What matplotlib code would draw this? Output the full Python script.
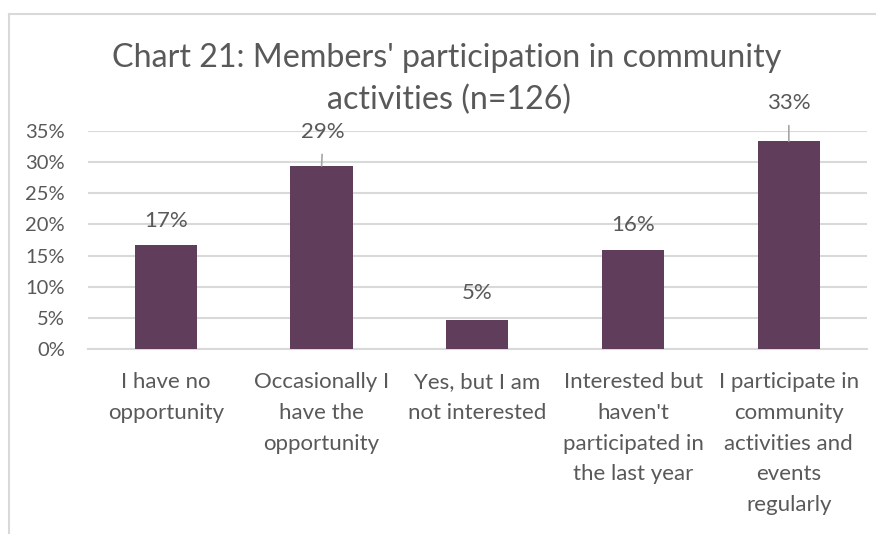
import matplotlib
matplotlib.use("Agg")
import matplotlib.pyplot as plt
from matplotlib.lines import Line2D
from matplotlib.ticker import FixedLocator

plt.rcParams['font.family'] = ['Lato', 'DejaVu Sans']

categories = ["I have no\nopportunity",
              "Occasionally I\nhave the\nopportunity",
              "Yes, but I am\nnot interested",
              "Interested but\nhaven't\nparticipated in\nthe last year",
              "I participate in\ncommunity\nactivities and\nevents\nregularly"]
counts = [21, 37, 6, 20, 42]
n_total = 126
values = [c / n_total for c in counts]
labels = ["17%", "29%", "5%", "16%", "33%"]
yticks = [0, 0.05, 0.10, 0.15, 0.20, 0.25, 0.30, 0.35]
ytick_labels = ["0%", "5%", "10%", "15%", "20%", "25%", "30%", "35%"]
title_lines = ["Chart 21: Members' participation in community", "activities (n=126)"]

BAR = "#613D5C"
TXT = "#595959"
GRID = "#D9D9D9"

W, H = 876, 534
fig = plt.figure(figsize=(W / 100, H / 100), dpi=100)
ax = fig.add_axes([88 / W, 1 - 349.3 / H, (866.7 - 88) / W, (349.3 - 130.7) / H])

x = list(range(len(categories)))
ax.bar(x, values, width=0.4, color=BAR, zorder=3)
ax.set_xlim(-0.5, len(categories) - 0.5)
ax.set_ylim(0, 0.35)
ax.yaxis.set_major_locator(FixedLocator(yticks))
ax.set_yticklabels(ytick_labels, fontsize=14.5, color=TXT)
ax.set_xticks(x)
ax.set_xticklabels([""] * len(categories))
ax.tick_params(axis='both', length=0)
ax.tick_params(axis='y', pad=16.5)
ax.grid(axis='y', color=GRID, linewidth=1.5, zorder=0)
for s in ['top', 'right', 'left']:
    ax.spines[s].set_visible(False)
ax.spines['bottom'].set_color(GRID)
ax.spines['bottom'].set_linewidth(1.5)

# category labels
for xi, cat in zip(x, categories):
    ax.annotate(cat, xy=(xi, 0), xycoords=('data', 'axes fraction'),
                xytext=(0, -23), textcoords='offset pixels',
                ha='center', va='top', fontsize=16, color=TXT,
                linespacing=1.67, annotation_clip=False)

# data labels (pixel offsets from bar top to label center)
offsets = [(0, 24, False), (1.5, 34, True), (0, 27, False), (0, 25, False), (0, 38, True)]
for xi, v, lab, (dx, dy, leader) in zip(x, values, labels, offsets):
    if leader:
        ax.annotate(lab, xy=(xi, v), xytext=(dx, dy), textcoords='offset pixels',
                    ha='center', va='center', fontsize=16, color=TXT,
                    arrowprops=dict(arrowstyle='-', color='#A6A6A6', lw=1.2,
                                    shrinkA=7, shrinkB=0))
    else:
        ax.annotate(lab, xy=(xi, v), xytext=(dx, dy), textcoords='offset pixels',
                    ha='center', va='center', fontsize=16, color=TXT)

fig.text(447 / W, 1 - 58 / H, title_lines[0], ha='center', va='center',
         fontsize=23.2, color=TXT)
fig.text(449 / W, 1 - 100 / H, title_lines[1], ha='center', va='center',
         fontsize=23.2, color=TXT)

# chart area border (partially visible)
fig.add_artist(Line2D([9 / W, 9 / W], [0, 1 - 14 / H], color=GRID, lw=1.5,
                      transform=fig.transFigure))
fig.add_artist(Line2D([9 / W, 1], [1 - 14 / H, 1 - 14 / H], color=GRID, lw=1.5,
                      transform=fig.transFigure))

fig.savefig("out.png", dpi=100)
